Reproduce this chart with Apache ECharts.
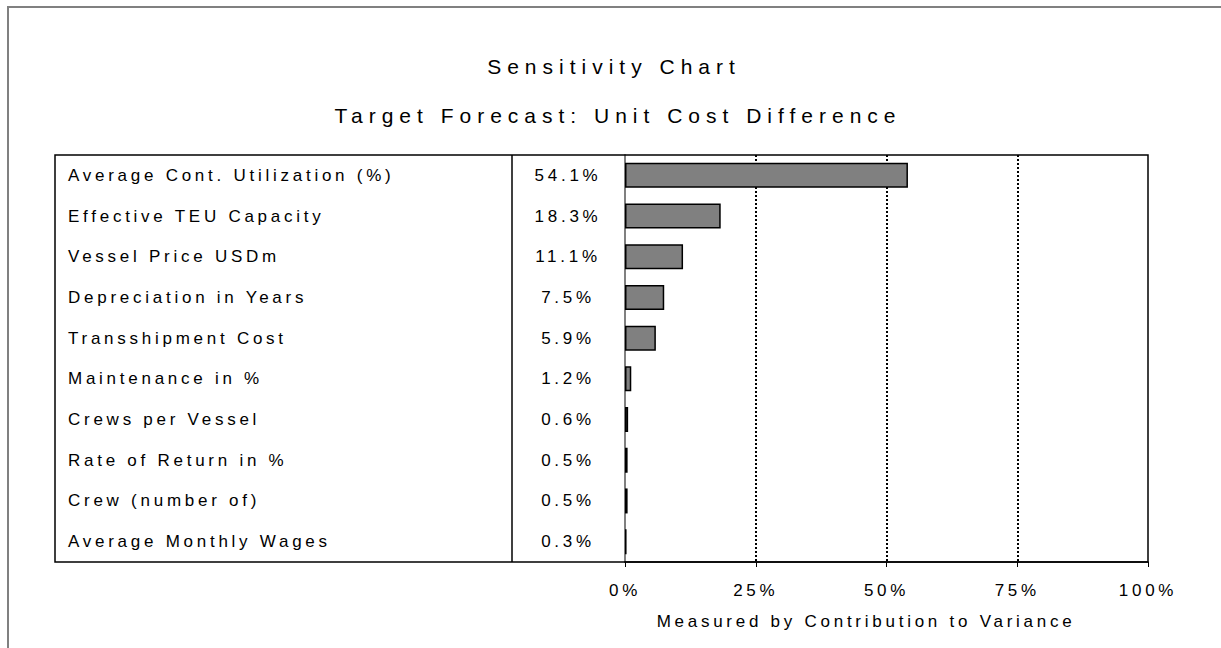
<!doctype html>
<html lang="en">
<head>
    <meta charset="UTF-8">
    <title>Sensitivity Chart</title>
    <style>
        html, body {
            margin: 0;
            padding: 0;
            background: #fff;
        }
        #main {
            width: 1221px;
            height: 648px;
        }
        /* the original prints its text with wide letter spacing */
        #main text {
            letter-spacing: 0.22em;
        }
        #main text[style*="21px"] {
            letter-spacing: 6px;
        }
    </style>
</head>
<body>
<div id="main"></div>
<script src="https://cdn.jsdelivr.net/npm/echarts@6/dist/echarts.min.js"></script>
<script>
    var categories = ['Average Cont. Utilization (%)', 'Effective TEU Capacity', 'Vessel Price USDm',
        'Depreciation in Years', 'Transshipment Cost', 'Maintenance in %', 'Crews per Vessel',
        'Rate of Return in %', 'Crew (number of)', 'Average Monthly Wages'];
    var contributions = [54.1, 18.3, 11.1, 7.5, 5.9, 1.2, 0.6, 0.5, 0.5, 0.3];
    var tickValues = [0, 25, 50, 75, 100];

    (function () {
        var font = 'Liberation Sans, Arial, sans-serif';
        var myChart = echarts.init(document.getElementById('main'), null, {renderer: 'svg'});

        // value column shown between the names and the plot
        var valueLabels = contributions.map(function (v) {
            return v.toFixed(1) + '%';
        });

        var option = {
            animation: false,
            backgroundColor: '#fff',
            textStyle: {
                fontFamily: font,
                color: '#000'
            },
            grid: {
                left: 625,
                right: 73,
                top: 155,
                bottom: 86,
                containLabel: false,
                outerBoundsMode: 'none'
            },
            xAxis: {
                type: 'value',
                min: tickValues[0],
                max: tickValues[tickValues.length - 1],
                interval: tickValues[1] - tickValues[0],
                axisLine: {
                    show: true,
                    lineStyle: {color: '#000', width: 1.5}
                },
                axisTick: {
                    show: true,
                    length: 5,
                    lineStyle: {color: '#000', width: 1}
                },
                axisLabel: {
                    margin: 20,
                    fontSize: 17,
                    color: '#000',
                    fontFamily: font,
                    formatter: '{value}%'
                },
                splitLine: {
                    show: true,
                    showMinLine: false,
                    showMaxLine: false,
                    lineStyle: {color: '#000', type: [2, 2], width: 2}
                }
            },
            yAxis: [{
                type: 'category',
                data: categories,
                inverse: true,
                position: 'left',
                axisLine: {
                    show: true,
                    lineStyle: {color: '#808080', width: 2}
                },
                axisTick: {show: false},
                axisLabel: {
                    interval: 0,
                    align: 'left',
                    margin: 557,
                    fontSize: 17,
                    color: '#000',
                    fontFamily: font
                },
                splitLine: {show: false}
            }, {
                type: 'category',
                data: valueLabels,
                inverse: true,
                position: 'left',
                offset: 0,
                axisLine: {show: false},
                axisTick: {show: false},
                axisLabel: {
                    interval: 0,
                    align: 'center',
                    margin: 57,
                    fontSize: 17,
                    color: '#000',
                    fontFamily: font
                },
                splitLine: {show: false}
            }],
            series: [{
                name: 'Contribution to Variance',
                type: 'bar',
                yAxisIndex: 0,
                data: contributions,
                barWidth: 25,
                itemStyle: {
                    color: '#808080',
                    borderColor: '#000',
                    borderWidth: 1.5
                },
                silent: true
            }],
            graphic: [{
                // outer frame of the page
                type: 'rect',
                silent: true,
                shape: {x: 8, y: 7, width: 1400, height: 800},
                style: {fill: 'none', stroke: '#808080', lineWidth: 2}
            }, {
                // frame round names, values and plot
                type: 'rect',
                silent: true,
                z: 10,
                shape: {x: 55, y: 155, width: 1093, height: 407},
                style: {fill: 'none', stroke: '#000', lineWidth: 1.5}
            }, {
                type: 'line',
                silent: true,
                z: 10,
                shape: {x1: 512, y1: 155, x2: 512, y2: 562},
                style: {stroke: '#000', lineWidth: 1.5}
            }, {
                type: 'text',
                silent: true,
                x: 614,
                y: 66,
                style: {
                    text: 'Sensitivity Chart',
                    fontSize: 21,
                    fontFamily: font,
                    fill: '#000',
                    textAlign: 'center',
                    textVerticalAlign: 'middle'
                }
            }, {
                type: 'text',
                silent: true,
                x: 618,
                y: 115,
                style: {
                    text: 'Target Forecast: Unit Cost Difference',
                    fontSize: 21,
                    fontFamily: font,
                    fill: '#000',
                    textAlign: 'center',
                    textVerticalAlign: 'middle'
                }
            }, {
                type: 'text',
                silent: true,
                x: 866,
                y: 621,
                style: {
                    text: 'Measured by Contribution to Variance',
                    fontSize: 17,
                    fontFamily: font,
                    fill: '#000',
                    textAlign: 'center',
                    textVerticalAlign: 'middle'
                }
            }]
        };
        myChart.setOption(option);
    })();
</script>
</body>
</html>
